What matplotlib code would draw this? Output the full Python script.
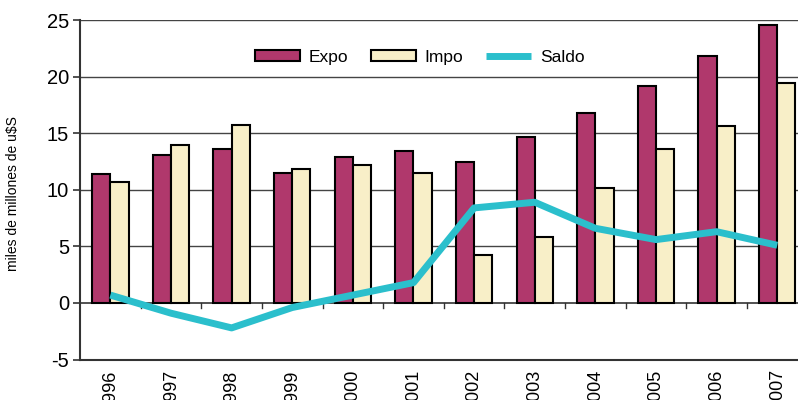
import numpy as np
import matplotlib
matplotlib.use("Agg")
import matplotlib.pyplot as plt

plt.rcParams["font.family"] = ["Liberation Sans", "DejaVu Sans"]
plt.rcParams["axes.unicode_minus"] = False

anios = ["1996", "1997", "1998", "1999", "2000", "2001",
         "2002", "2003", "2004", "2005", "2006", "2007"]
expo = [11.4, 13.1, 13.6, 11.5, 12.9, 13.4, 12.5, 14.7, 16.8, 19.2, 21.8, 24.6]
impo = [10.7, 14.0, 15.7, 11.8, 12.2, 11.5, 4.2, 5.8, 10.2, 13.6, 15.6, 19.4]
saldo = [0.7, -0.9, -2.2, -0.4, 0.7, 1.8, 8.4, 8.9, 6.6, 5.6, 6.3, 5.1]

C_EXPO = "#b0386c"
C_IMPO = "#f8efc8"
C_SALDO = "#2bbfcc"

fig = plt.figure(figsize=(7.98, 4.0), dpi=100)
ax = fig.add_axes([0.1003, 0.101, 0.9117, 0.849])

x = np.arange(len(anios))
w = 0.3
b1 = ax.bar(x - w / 2, expo, w, color=C_EXPO, edgecolor="black", linewidth=1.5, label="Expo", zorder=3)
b2 = ax.bar(x + w / 2, impo, w, color=C_IMPO, edgecolor="black", linewidth=1.5, label="Impo", zorder=3)
l1, = ax.plot(x, saldo, color=C_SALDO, lw=5, solid_capstyle="butt", label="Saldo", zorder=4)

ax.set_xlim(-0.5, len(anios) - 0.5)
ax.set_ylim(-5, 25)
ax.set_yticks(range(-5, 26, 5))
for v in range(5, 26, 5):
    ax.axhline(v, color="#444444", lw=1, zorder=1)

# eje en cero con marcas entre categorias
ax.axhline(0, color="#333333", lw=1.2, zorder=2)
for b in np.arange(0.5, len(anios) - 0.5, 1):
    ax.plot([b, b], [0, -0.45], color="#333333", lw=1, zorder=2)

ax.spines["top"].set_visible(False)
ax.spines["right"].set_visible(False)
ax.spines["left"].set_color("#333333")
ax.spines["left"].set_linewidth(1.5)
ax.spines["bottom"].set_color("#333333")
ax.spines["bottom"].set_linewidth(1.5)

ax.set_xticks(x)
ax.set_xticklabels(anios, rotation=90, fontsize=13)
ax.tick_params(axis="x", length=0, pad=7)
ax.tick_params(axis="y", length=5, width=1.2, color="#333333", labelsize=14.5, pad=3)

ax.set_ylabel("miles de millones de u$S", fontsize=10)
ax.yaxis.set_label_coords(-0.083, 0.49)

fig.legend(handles=[b1, b2, l1], loc="center", bbox_to_anchor=(0.526, 0.857), ncol=3,
           frameon=False, fontsize=12.5, handlelength=2.6, handleheight=0.65,
           handletextpad=0.5, columnspacing=1.3)

fig.savefig("out.png", dpi=100)
